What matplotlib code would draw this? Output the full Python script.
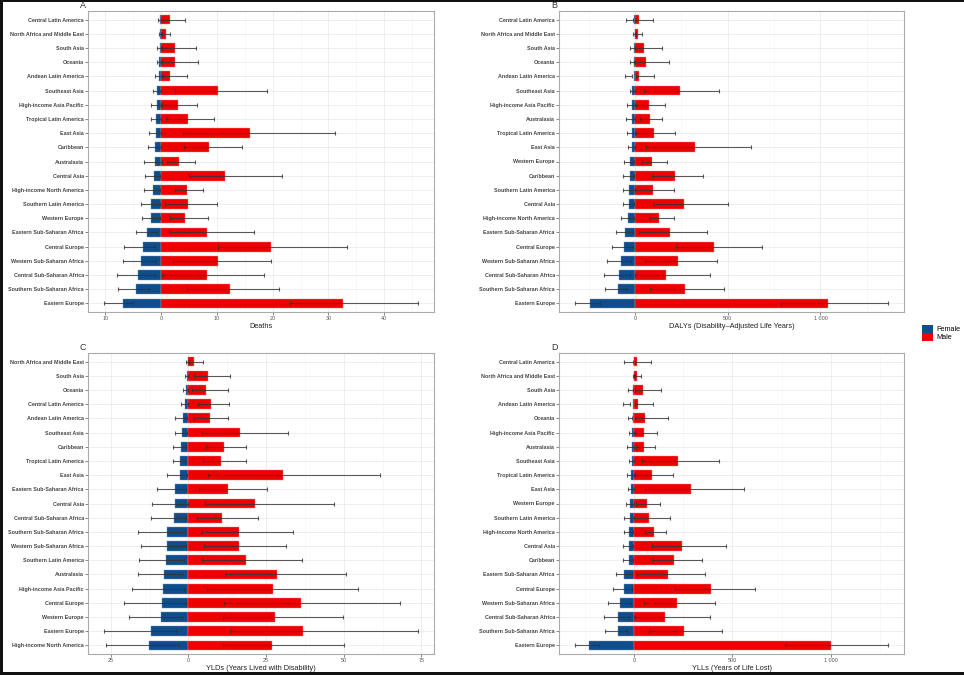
import numpy as np
import matplotlib
matplotlib.use('Agg')
import matplotlib.pyplot as plt
from matplotlib.patches import Patch, Rectangle
from matplotlib.ticker import MultipleLocator, FuncFormatter

plt.rcParams['font.family'] = ['Liberation Sans', 'DejaVu Sans']

FEMALE_COL = '#104E8B'
MALE_COL = '#EE0000'

# Panel A - Deaths
deaths_regions = ['Central Latin America', 'North Africa and Middle East', 'South Asia', 'Oceania',
                  'Andean Latin America', 'Southeast Asia', 'High-income Asia Pacific',
                  'Tropical Latin America', 'East Asia', 'Caribbean', 'Australasia', 'Central Asia',
                  'High-income North America', 'Southern Latin America', 'Western Europe',
                  'Eastern Sub-Saharan Africa', 'Central Europe', 'Western Sub-Saharan Africa',
                  'Central Sub-Saharan Africa', 'Southern Sub-Saharan Africa', 'Eastern Europe']
deaths_f = [-0.2, -0.15, -0.25, -0.3, -0.4, -0.7, -0.8, -0.9, -1.0, -1.1, -1.15, -1.2,
            -1.5, -1.75, -1.75, -2.6, -3.2, -3.6, -4.2, -4.5, -6.9]
deaths_f_lo = [-0.6, -0.3, -0.7, -0.8, -1.1, -1.4, -1.8, -1.9, -2.1, -2.3, -3.0, -2.9,
               -3.1, -3.6, -3.5, -4.6, -6.6, -6.8, -7.9, -7.7, -10.3]
deaths_f_hi = [-0.05, 0.0, -0.05, 0.0, 0.1, -0.1, -0.1, -0.1, -0.1, 0.0, 0.1, -0.2,
               -0.2, -0.2, -0.2, -0.8, -1.05, -1.0, -1.1, -2.1, -5.0]
deaths_m = [1.5, 0.8, 2.4, 2.5, 1.6, 10.2, 3.0, 4.8, 16.0, 8.5, 3.15, 11.4,
            4.6, 4.9, 4.35, 8.3, 19.7, 10.2, 8.15, 12.3, 32.6]
deaths_m_lo = [0.3, 0.2, 0.1, 0.2, 0.2, 2.4, 0.1, 0.95, 3.9, 4.05, 1.0, 5.0,
               2.4, 0.6, 1.55, 1.4, 10.2, 2.2, 0.2, 4.7, 23.1]
deaths_m_hi = [4.3, 1.6, 6.25, 6.65, 4.7, 19.0, 6.5, 9.5, 31.2, 14.5, 6.1, 21.7,
               7.5, 10.0, 8.4, 16.7, 33.3, 19.7, 18.4, 21.1, 46.1]

# Panel B - DALYs
dalys_regions = ['Central Latin America', 'North Africa and Middle East', 'South Asia', 'Oceania',
                 'Andean Latin America', 'Southeast Asia', 'High-income Asia Pacific', 'Australasia',
                 'Tropical Latin America', 'East Asia', 'Western Europe', 'Caribbean',
                 'Southern Latin America', 'Central Asia', 'High-income North America',
                 'Eastern Sub-Saharan Africa', 'Central Europe', 'Western Sub-Saharan Africa',
                 'Central Sub-Saharan Africa', 'Southern Sub-Saharan Africa', 'Eastern Europe']
dalys_f = [-5, -3, -6, -8, -8, -17, -18, -19, -19, -19, -28, -30,
           -33, -33, -40, -55, -61, -76, -86, -91, -246]
dalys_f_lo = [-47, -10, -25, -29, -56, -30, -43, -50, -43, -41, -61, -63,
              -68, -68, -75, -102, -125, -149, -167, -163, -326]
dalys_f_hi = [-9, -2, -3, -5, -15, -3, -3, -3, -3, -3, -4, -5,
              -3, -7, -7, -14, -14, -20, -25, -43, -190]
dalys_m = [21, 18, 50, 61, 23, 240, 77, 81, 102, 323, 93, 215,
           95, 265, 129, 186, 425, 233, 165, 271, 1039]
dalys_m_lo = [2, 5, 0, 2, 4, 50, 4, 27, 3, 59, 30, 93,
              0, 97, 77, 20, 222, 52, 2, 82, 787]
dalys_m_hi = [97, 36, 147, 181, 104, 453, 161, 147, 215, 627, 174, 364,
              210, 500, 208, 387, 685, 441, 405, 482, 1366]

# Panel C - YLDs
ylds_regions = ['North Africa and Middle East', 'South Asia', 'Oceania', 'Central Latin America',
                'Andean Latin America', 'Southeast Asia', 'Caribbean', 'Tropical Latin America',
                'East Asia', 'Eastern Sub-Saharan Africa', 'Central Asia', 'Central Sub-Saharan Africa',
                'Southern Sub-Saharan Africa', 'Western Sub-Saharan Africa', 'Southern Latin America',
                'Australasia', 'High-income Asia Pacific', 'Central Europe', 'Western Europe',
                'Eastern Europe', 'High-income North America']
ylds_f = [-0.3, -0.5, -0.7, -1.2, -1.8, -2.0, -2.5, -2.6, -2.8, -4.4, -4.4, -4.8,
          -6.9, -6.9, -7.2, -7.9, -8.1, -8.4, -8.9, -12.2, -12.6]
ylds_f_lo = [-0.75, -1.1, -1.7, -2.5, -4.2, -4.4, -4.9, -5.1, -7.0, -10.1, -11.6, -12.0,
             -16.4, -15.4, -16.1, -16.3, -18.3, -20.8, -19.2, -27.3, -26.6]
ylds_f_hi = [-0.1, -0.2, -0.2, -0.3, -0.5, -0.6, -0.8, -1.0, -0.5, -0.9, -0.2, -0.7,
             -1.0, -0.9, -1.4, -2.0, -1.3, -0.9, -2.1, -3.9, -3.0]
ylds_m = [1.9, 6.3, 5.7, 7.3, 6.8, 16.5, 11.3, 10.5, 30.4, 12.6, 21.4, 10.7,
          16.4, 16.4, 18.4, 28.6, 27.3, 36.1, 27.8, 36.9, 26.8]
ylds_m_lo = [0.1, 1.7, 1.1, 3.2, 1.4, 4.0, 5.5, 4.6, 6.3, 3.3, 5.3, 2.8,
             4.0, 4.9, 4.4, 11.8, 5.9, 11.5, 11.1, 13.4, 11.1]
ylds_m_hi = [4.6, 13.3, 12.8, 13.1, 12.8, 31.9, 18.4, 18.6, 61.8, 25.2, 46.7, 22.4,
             33.5, 31.4, 36.4, 50.7, 54.7, 68.2, 49.6, 74.0, 50.2]

# Panel D - YLLs
ylls_regions = ['Central Latin America', 'North Africa and Middle East', 'South Asia',
                'Andean Latin America', 'Oceania', 'High-income Asia Pacific', 'Australasia',
                'Southeast Asia', 'Tropical Latin America', 'East Asia', 'Western Europe',
                'Southern Latin America', 'High-income North America', 'Central Asia', 'Caribbean',
                'Eastern Sub-Saharan Africa', 'Central Europe', 'Western Sub-Saharan Africa',
                'Central Sub-Saharan Africa', 'Southern Sub-Saharan Africa', 'Eastern Europe']
ylls_f = [-3, -3, -5, -5, -7, -10, -10, -14, -15, -15, -20, -24,
          -25, -29, -29, -51, -54, -71, -81, -84, -232]
ylls_f_lo = [-52, -5, -30, -59, -32, -27, -35, -29, -39, -34, -44, -54,
             -54, -57, -57, -95, -108, -135, -154, -147, -304]
ylls_f_hi = [-7, -1, -8, -22, -14, -3, -3, -3, -3, -3, -3, 0,
             -5, -5, -5, -10, -12, -17, -27, -37, -182]
ylls_m = [14, 15, 44, 17, 54, 49, 51, 223, 91, 291, 64, 76,
          101, 243, 203, 172, 389, 215, 154, 252, 1000]
ylls_m_lo = [2, 5, 2, 3, 5, 2, 10, 39, 2, 54, 7, 0,
             54, 88, 88, 12, 206, 47, 0, 74, 769]
ylls_m_hi = [86, 34, 137, 93, 172, 115, 105, 429, 198, 561, 130, 181,
             159, 465, 346, 360, 615, 409, 383, 449, 1294]

panels = [
    ('A', 'Deaths', deaths_regions, deaths_f, deaths_f_lo, deaths_f_hi, deaths_m, deaths_m_lo, deaths_m_hi, 10),
    ('B', 'DALYs (Disability\u2013Adjusted Life Years)', dalys_regions, dalys_f, dalys_f_lo, dalys_f_hi,
     dalys_m, dalys_m_lo, dalys_m_hi, 500),
    ('C', 'YLDs (Years Lived with Disability)', ylds_regions, ylds_f, ylds_f_lo, ylds_f_hi,
     ylds_m, ylds_m_lo, ylds_m_hi, 25),
    ('D', 'YLLs (Years of Life Lost)', ylls_regions, ylls_f, ylls_f_lo, ylls_f_hi,
     ylls_m, ylls_m_lo, ylls_m_hi, 500),
]

W, H = 964, 675
fig = plt.figure(figsize=(W / 100, H / 100), dpi=100, facecolor='#111111')
bg = fig.add_axes([3 / W, 3 / H, 1, (H - 5) / H], zorder=-10)
bg.axis('off')
bg.add_patch(Rectangle((0, 0), 1, 1, transform=bg.transAxes, facecolor='white', edgecolor='none'))

# pixel boxes (left, top, right, bottom)
boxes = [(88, 11, 434, 312), (559, 11, 904, 312), (88, 353, 434, 654), (559, 353, 904, 654)]


def fmt_abs(v, pos):
    return f'{abs(v):,.0f}'.replace(',', ' ')


for (letter, xlabel, regions, f, flo, fhi, m, mlo, mhi, step), (l, t, r, b) in zip(panels, boxes):
    ax = fig.add_axes([l / W, (H - b) / H, (r - l) / W, (b - t) / H])
    n = len(regions)
    y = np.arange(n)[::-1] + 1
    f, flo, fhi = np.array(f, float), np.array(flo, float), np.array(fhi, float)
    m, mlo, mhi = np.array(m, float), np.array(mlo, float), np.array(mhi, float)

    ax.barh(y, f, height=0.7, color=FEMALE_COL, edgecolor='#6a8fbf', linewidth=0.3, zorder=2)
    ax.barh(y, m, height=0.7, color=MALE_COL, edgecolor='#ff8080', linewidth=0.3, zorder=2)
    for lo, hi in ((flo, fhi), (mlo, mhi)):
        ax.errorbar((lo + hi) / 2, y, xerr=(hi - lo) / 2, fmt='none', ecolor='#333333',
                    elinewidth=0.8, capsize=1.3, capthick=0.8, alpha=0.8, zorder=3)

    lo_all = min(flo.min(), f.min())
    hi_all = max(mhi.max(), m.max())
    pad = (hi_all - lo_all) * 0.05
    ax.set_xlim(lo_all - pad, hi_all + pad)
    ax.set_ylim(0.4, n + 0.6)

    ax.set_yticks(y)
    ax.set_yticklabels(regions, fontsize=3.9, fontweight='bold', color='#444444')
    ax.xaxis.set_major_locator(MultipleLocator(step))
    ax.xaxis.set_minor_locator(MultipleLocator(step / 2))
    ax.xaxis.set_major_formatter(FuncFormatter(fmt_abs))
    ax.tick_params(axis='x', labelsize=3.9, colors='#555555', length=2, width=0.5, pad=1.2)
    ax.tick_params(axis='x', which='minor', length=0)
    ax.tick_params(axis='y', length=2, width=0.5, color='#555555', pad=1)
    ax.grid(True, which='major', color='#EBEBEB', linewidth=0.6, zorder=0)
    ax.grid(True, which='minor', axis='x', color='#F3F3F3', linewidth=0.4, zorder=0)
    ax.set_axisbelow(True)
    for s in ax.spines.values():
        s.set_color('#AAAAAA')
        s.set_linewidth(0.8)

    ax.set_xlabel(xlabel, fontsize=5.3, color='#222222', labelpad=1)
    fig.text((l - 8) / W, 1 - (t - 5) / H, letter, fontsize=6.5, color='#333333',
             ha='left', va='center')

handles = [Patch(facecolor=FEMALE_COL, label='Female'), Patch(facecolor=MALE_COL, label='Male')]
fig.legend(handles=handles, loc='center left', bbox_to_anchor=(919 / W, 1 - 333 / H), frameon=False,
           fontsize=5.2, handlelength=1.6, handleheight=1.3, handletextpad=0.4, labelspacing=0.0,
           borderaxespad=0)

fig.savefig('out.png', dpi=100, facecolor=fig.get_facecolor())
